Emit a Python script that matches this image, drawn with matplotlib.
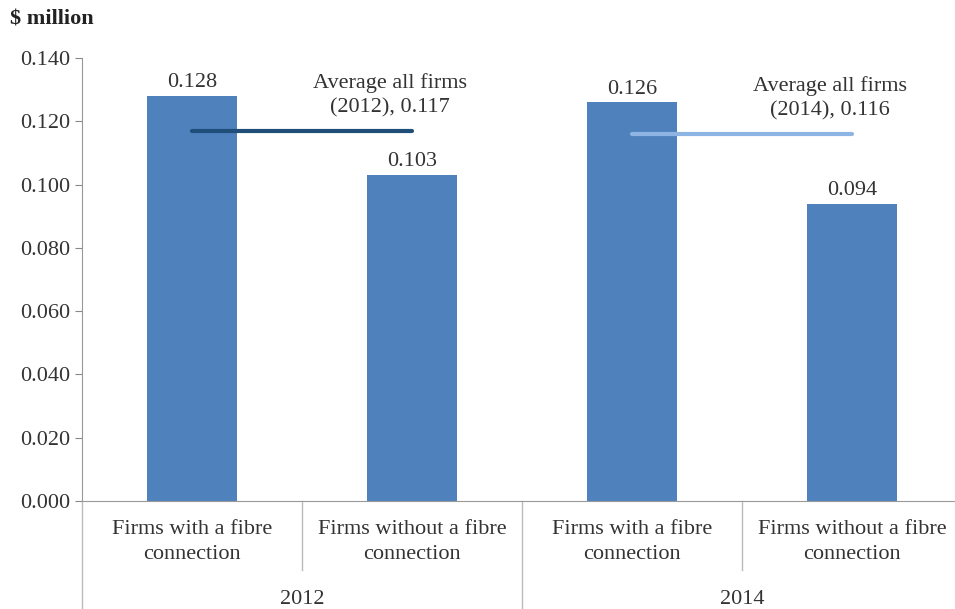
import matplotlib.pyplot as plt
import numpy as np

plt.rcParams['font.family'] = ['Liberation Serif', 'DejaVu Serif']

years = ["2012", "2014"]
categories = ["Firms with a fibre\nconnection", "Firms without a fibre\nconnection",
              "Firms with a fibre\nconnection", "Firms without a fibre\nconnection"]
values = [0.128, 0.103, 0.126, 0.094]
averages = [0.117, 0.116]
avg_labels = ["Average all firms\n(2012), 0.117", "Average all firms\n(2014), 0.116"]
avg_colors = ["#1F4E79", "#8DB4E2"]

W, H = 955, 609
fs = 16
fig = plt.figure(figsize=(W / 100, H / 100), dpi=100)
left, bottom, top = 82, 501, 58
slot = 220
ax = fig.add_axes([left / W, 1 - bottom / H, (W - left) / W, (bottom - top) / H])

x = np.arange(len(values))
ax.bar(x, values, width=0.405, color="#4F81BD")
for xi, v in zip(x, values):
    ax.text(xi, v + 0.0012, f"{v:.3f}", ha="center", va="bottom", fontsize=fs, color="#333333")

for i, (avg, lab, c) in enumerate(zip(averages, avg_labels, avg_colors)):
    ax.plot([2 * i, 2 * i + 1], [avg, avg], color=c, lw=3, solid_capstyle="round")
    ax.text(2 * i + 0.9, avg + 0.0042, lab, ha="center", va="bottom", fontsize=fs,
            color="#333333", linespacing=1.35)

ax.set_xlim(-0.5, -0.5 + (W - left) / slot)
ax.set_ylim(0, 0.140)
ax.set_yticks(np.arange(0, 0.141, 0.02))
ax.set_yticklabels([f"{t:.3f}" for t in np.arange(0, 0.141, 0.02)])
ax.tick_params(axis="y", labelsize=fs, colors="#888888", labelcolor="#333333",
               length=5, direction="out")
ax.set_xticks([])
for s in ["top", "right"]:
    ax.spines[s].set_visible(False)
for s in ["left", "bottom"]:
    ax.spines[s].set_color("#999999")

# two-level category axis below the plot
tr = ax.get_xaxis_transform()
for xi, cat in zip(x, categories):
    ax.text(xi, -0.092, cat, transform=tr, ha="center", va="center", fontsize=fs,
            color="#333333", linespacing=1.4)
for xi in [0.5, 2.5]:
    ax.plot([xi, xi], [0, -0.155], transform=tr, color="#BBBBBB", lw=1, clip_on=False)
for xi in [-0.5, 1.5, 3.5]:
    ax.plot([xi, xi], [0, -0.25], transform=tr, color="#BBBBBB", lw=1, clip_on=False)
for i, yr in enumerate(years):
    ax.text(2 * i + 0.5, -0.222, yr, transform=tr, ha="center", va="center",
            fontsize=fs, color="#333333")

fig.text(10 / W, 1 - 20 / H, "$ million", ha="left", va="center", fontsize=fs,
         fontweight="bold", color="#222222")

fig.savefig("out.png", dpi=100)
